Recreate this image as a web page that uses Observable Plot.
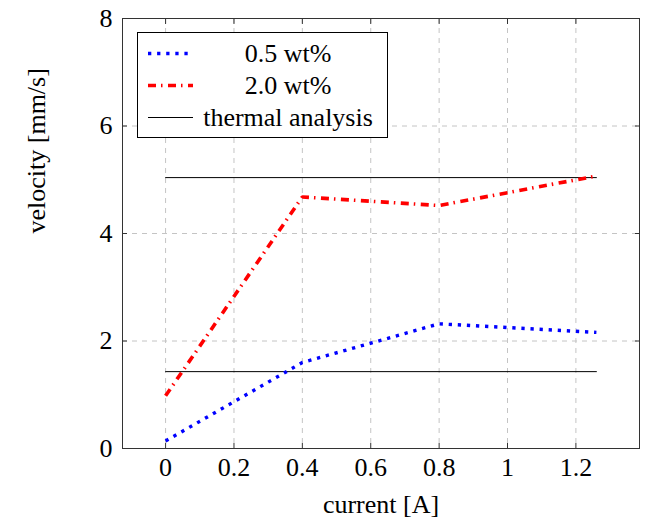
<!DOCTYPE html>
<html><head><meta charset="utf-8">
<script src="https://cdn.jsdelivr.net/npm/d3@7"></script>
<script src="https://cdn.jsdelivr.net/npm/@observablehq/plot@0.6"></script>
<style>
body{margin:0;background:#fff;}
#wrap{position:relative;width:645px;height:522px;}
#legend{position:absolute;left:0;top:0;pointer-events:none;}
</style>
</head><body>
<div id="wrap"></div>
<script>
// ---- data ----
const xTicks = [0, 0.2, 0.4, 0.6, 0.8, 1, 1.2];
const yTicks = [0, 2, 4, 6, 8];
const current = [0, 0.4, 0.8, 1.26];
const v05 = [0.14, 1.60, 2.32, 2.16];
const v20 = [0.98, 4.68, 4.52, 5.07];
const thermalX = [0, 1.26];
const thermal05 = 1.43;
const thermal20 = 5.04;
const seriesNames = ["0.5 wt%", "2.0 wt%", "thermal analysis"];
const xLabel = "current [A]";
const yLabel = "velocity [mm/s]";

const s05 = current.map((x, i) => ({x, y: v05[i]}));
const s20 = current.map((x, i) => ({x, y: v20[i]}));
const th = [thermal05, thermal20].flatMap((v, k) => thermalX.map(x => ({x, y: v, k})));

const FONT = '"Liberation Serif", "Times New Roman", serif';
const gridStyle = {stroke: "#c4c4c4", strokeOpacity: 1, strokeDasharray: "5,5"};

const chart = Plot.plot({
  width: 645, height: 522,
  marginLeft: 122, marginRight: 6, marginTop: 18, marginBottom: 74,
  style: {fontFamily: FONT, fontSize: "26px", background: "#fff", color: "#000"},
  x: {domain: [-0.126, 1.386]},
  y: {domain: [0, 8]},
  marks: [
    Plot.gridX(xTicks, gridStyle),
    Plot.gridY(yTicks, gridStyle),
    Plot.line(th, {x: "x", y: "y", z: "k", stroke: "#000", strokeWidth: 1}),
    Plot.line(s05, {x: "x", y: "y", stroke: "#0000ff", strokeWidth: 3.4, strokeDasharray: "3.3,5.8", strokeLinecap: "butt", strokeLinejoin: "miter"}),
    Plot.line(s20, {x: "x", y: "y", stroke: "#ff0000", strokeWidth: 3.6, strokeDasharray: "8,5,1.5,5.5", strokeLinecap: "butt", strokeLinejoin: "miter"}),
    Plot.frame({stroke: "#333"}),
    Plot.axisX(xTicks, {anchor: "bottom", tickSize: 0, tickPadding: 9, label: null, tickFormat: d => String(d)}),
    Plot.axisY(yTicks, {anchor: "left", tickSize: 0, tickPadding: 10, label: null, tickFormat: d => String(d)}),
    Plot.axisX(xTicks, {anchor: "bottom", tickSize: -5, label: null, tickFormat: () => "", stroke: "#333"}),
    Plot.axisX(xTicks, {anchor: "top", tickSize: -5, label: null, tickFormat: () => "", stroke: "#333"}),
    Plot.axisY(yTicks, {anchor: "left", tickSize: -5, label: null, tickFormat: () => "", stroke: "#333"}),
    Plot.axisY(yTicks, {anchor: "right", tickSize: -5, label: null, tickFormat: () => "", stroke: "#333"}),
    Plot.text([xLabel], {text: d => d, frameAnchor: "bottom", dy: 64, fontSize: 26}),
    Plot.text([yLabel], {text: d => d, frameAnchor: "left", rotate: -90, dx: -86, fontSize: 26})
  ]
});
const wrap = document.getElementById("wrap");
wrap.appendChild(chart);

// ---- legend ----
const lg = d3.select(wrap).append("svg").attr("id", "legend")
  .attr("width", 645).attr("height", 522)
  .style("font-family", FONT).style("font-size", "26px");
lg.append("rect").attr("x", 137.5).attr("y", 32.5).attr("width", 250).attr("height", 105)
  .attr("fill", "#fff").attr("stroke", "#000").attr("stroke-width", 1);
const legendStyles = [
  {stroke: "#0000ff", w: 3.4, dash: "3.3,5.8"},
  {stroke: "#ff0000", w: 3.6, dash: "8,5,1.5,5.5"},
  {stroke: "#000", w: 1, dash: null}
];
seriesNames.forEach((name, i) => {
  const cy = 53.5 + i * 32;
  const st = legendStyles[i];
  const ln = lg.append("line").attr("x1", 148).attr("x2", 193).attr("y1", cy).attr("y2", cy)
    .attr("stroke", st.stroke).attr("stroke-width", st.w);
  if (st.dash) ln.attr("stroke-dasharray", st.dash);
  lg.append("text").attr("x", 288).attr("y", cy + 8.3).attr("text-anchor", "middle").attr("fill", "#000").text(name);
});
</script>
</body></html>
